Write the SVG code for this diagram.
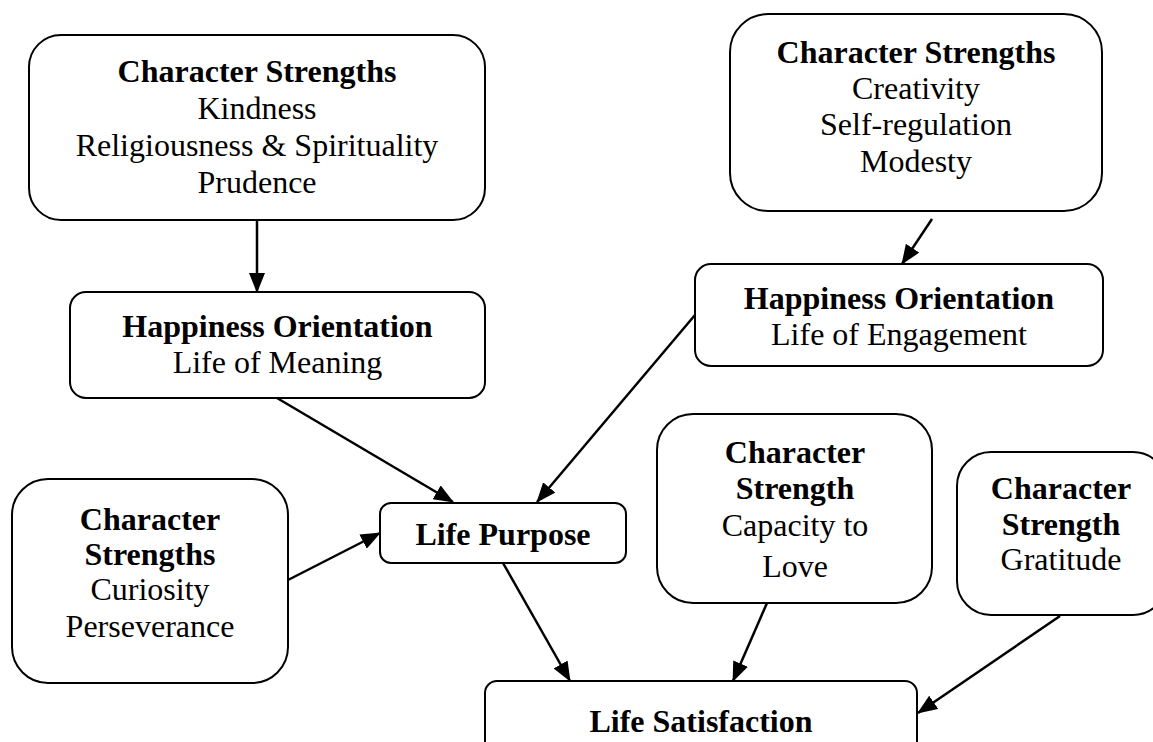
<svg xmlns="http://www.w3.org/2000/svg" width="1153" height="742" viewBox="0 0 1153 742">
<style>
.box{fill:#fff;stroke:#000;stroke-width:2}
.t{font-family:"Liberation Serif","Times New Roman",serif;font-size:32px;fill:#000;text-anchor:middle}
.b{font-weight:bold}
.c{stroke:#000;stroke-width:2.5;fill:none;marker-end:url(#ah)}
</style>
<defs>
<marker id="ah" markerUnits="userSpaceOnUse" markerWidth="20" markerHeight="16" refX="19" refY="8" orient="auto">
<path d="M0,0 L20,8 L0,16 z" fill="#000"/>
</marker>
</defs>
<rect width="1153" height="742" fill="#fff"/>
<g id="connectors">
<line class="c" x1="257" y1="220" x2="257" y2="292"/>
<line class="c" x1="932" y1="219" x2="902" y2="264"/>
<line class="c" x1="277" y1="398" x2="453" y2="502"/>
<line class="c" x1="695" y1="315" x2="537" y2="502"/>
<line class="c" x1="288" y1="580" x2="380" y2="533"/>
<line class="c" x1="503" y1="563" x2="570" y2="681"/>
<line class="c" x1="767" y1="603" x2="733" y2="681"/>
<line class="c" x1="1060" y1="616" x2="918" y2="713"/>
</g>
<g id="cs-top-left">
<rect class="box" x="29" y="35" width="456" height="185" rx="32"/>
<text class="t b" x="257" y="82">Character Strengths</text>
<text class="t" x="257" y="119">Kindness</text>
<text class="t" x="257" y="156">Religiousness &amp; Spirituality</text>
<text class="t" x="257" y="193">Prudence</text>
</g>
<g id="ho-meaning">
<rect class="box" x="70" y="292" width="415" height="106" rx="16"/>
<text class="t b" x="277.5" y="337">Happiness Orientation</text>
<text class="t" x="277.5" y="373">Life of Meaning</text>
</g>
<g id="cs-top-right">
<rect class="box" x="730" y="14" width="372" height="197" rx="38"/>
<text class="t b" x="916" y="63">Character Strengths</text>
<text class="t" x="916" y="99">Creativity</text>
<text class="t" x="916" y="135">Self-regulation</text>
<text class="t" x="916" y="172">Modesty</text>
</g>
<g id="ho-engagement">
<rect class="box" x="695" y="264" width="408" height="102" rx="16"/>
<text class="t b" x="899" y="309">Happiness Orientation</text>
<text class="t" x="899" y="345">Life of Engagement</text>
</g>
<g id="life-purpose">
<rect class="box" x="380" y="503" width="246" height="60" rx="11"/>
<text class="t b" x="503" y="545">Life Purpose</text>
</g>
<g id="cs-curiosity">
<rect class="box" x="12" y="479" width="276" height="204" rx="36"/>
<text class="t b" x="150" y="530">Character</text>
<text class="t b" x="150" y="565">Strengths</text>
<text class="t" x="150" y="600">Curiosity</text>
<text class="t" x="150" y="637">Perseverance</text>
</g>
<g id="cs-love">
<rect class="box" x="657" y="414" width="275" height="189" rx="36"/>
<text class="t b" x="795" y="463">Character</text>
<text class="t b" x="795" y="499">Strength</text>
<text class="t" x="795" y="536">Capacity to</text>
<text class="t" x="795" y="577">Love</text>
</g>
<g id="cs-gratitude">
<rect class="box" x="957" y="452" width="210" height="163" rx="34"/>
<text class="t b" x="1061" y="499">Character</text>
<text class="t b" x="1061" y="535">Strength</text>
<text class="t" x="1061" y="570">Gratitude</text>
</g>
<g id="life-satisfaction">
<rect class="box" x="485" y="681" width="432" height="80" rx="12"/>
<text class="t b" x="701" y="732">Life Satisfaction</text>
</g>
</svg>
